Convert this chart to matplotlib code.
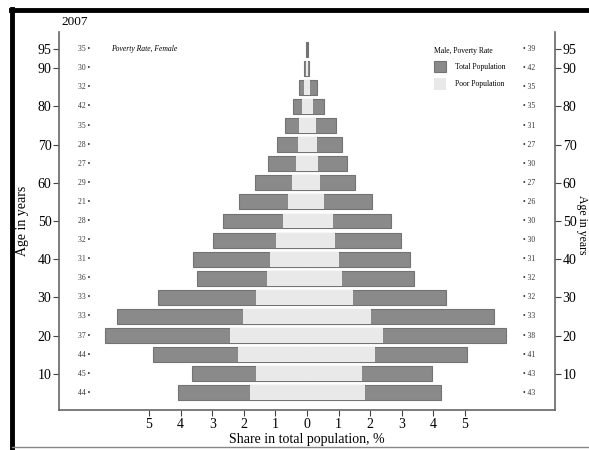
import matplotlib.pyplot as plt
from matplotlib.lines import Line2D

plt.rcParams['font.family'] = ['Liberation Serif', 'DejaVu Serif']

# age groups (bar centres) and shares in total population, %
ages = [5, 10, 15, 20, 25, 30, 35, 40, 45, 50, 55, 60, 65, 70, 75, 80, 85, 90, 95]
female_total = [4.08, 3.64, 4.87, 6.39, 6.01, 4.72, 3.48, 3.61, 2.97, 2.66,
                2.15, 1.65, 1.23, 0.95, 0.70, 0.44, 0.25, 0.10, 0.03]
female_poor = [1.80, 1.61, 2.18, 2.44, 2.03, 1.61, 1.27, 1.17, 0.98, 0.76,
               0.60, 0.47, 0.35, 0.28, 0.25, 0.16, 0.08, 0.03, 0.01]
male_total = [4.24, 3.96, 5.06, 6.30, 5.92, 4.40, 3.39, 3.26, 2.97, 2.66,
              2.06, 1.52, 1.27, 1.11, 0.92, 0.54, 0.32, 0.07, 0.03]
male_poor = [1.84, 1.74, 2.15, 2.41, 2.03, 1.46, 1.11, 1.01, 0.89, 0.82,
             0.54, 0.41, 0.35, 0.32, 0.29, 0.19, 0.10, 0.03, 0.01]
# poverty rates, %
female_rate = [44, 45, 44, 37, 33, 33, 36, 31, 32, 28, 21, 29, 27, 28, 35, 42, 32, 30, 35]
male_rate = [43, 43, 41, 38, 33, 32, 32, 31, 30, 30, 26, 27, 30, 27, 31, 35, 35, 42, 39]

fig = plt.figure(figsize=(5.89, 4.5), dpi=100)
ax = fig.add_axes([0.1002, 0.0889, 0.8421, 0.84])

dark = '#8a8a8a'
light = '#e9e9e9'
h = 3.9

tot_f = ax.barh(ages, [-v for v in female_total], height=h, color=dark, edgecolor='#737373', linewidth=0.8)
tot_m = ax.barh(ages, male_total, height=h, color=dark, edgecolor='#737373', linewidth=0.8)
poor_f = ax.barh(ages, [-v for v in female_poor], height=h, color=light, linewidth=0)
poor_m = ax.barh(ages, male_poor, height=h, color=light, linewidth=0)

# poverty rate labels
for a, r in zip(ages, female_rate):
    ax.text(-6.87, a, f'{r} \u2022', ha='right', va='center', fontsize=5.5, color='#333333')
for a, r in zip(ages, male_rate):
    ax.text(6.84, a, f'\u2022 {r}', ha='left', va='center', fontsize=5.5, color='#333333')

ax.set_xlim(-7.85, 7.85)
ax.set_ylim(0.5, 99.5)
xt = [-5, -4, -3, -2, -1, 0, 1, 2, 3, 4, 5]
ax.set_xticks(xt)
ax.set_xticklabels([str(abs(v)) for v in xt], fontsize=10)
yt = [10, 20, 30, 40, 50, 60, 70, 80, 90, 95]
ax.set_yticks(yt)
ax.set_yticklabels([str(v) for v in yt], fontsize=10)
ax.tick_params(axis='both', direction='out', length=4, width=0.8, color='#444444', pad=2)
ax.tick_params(axis='y', left=True, right=True, labelleft=True, labelright=True)
ax.tick_params(axis='y', which='both', labelright=True, pad=1.5)

for s in ['left', 'right', 'bottom']:
    ax.spines[s].set_color('#666666')
    ax.spines[s].set_linewidth(1.2)
ax.spines['top'].set_visible(False)

ax.set_xlabel('Share in total population, %', fontsize=10, labelpad=1)
ax.set_ylabel('Age in years', fontsize=10, labelpad=6)
fig.text(0.999, 0.5, 'Age in years', fontsize=8.5, rotation=270,
         ha='right', va='center')

ax.text(0.005, 1.01, '2007', transform=ax.transAxes, fontsize=9.5, ha='left', va='bottom')
ax.text(-6.2, 95, 'Poverty Rate, Female', fontsize=5.5, ha='left', va='center', style='italic')

leg = ax.legend([tot_m, poor_m], ['Total Population', 'Poor Population'],
                title='Male, Poverty Rate', title_fontsize=5.5, fontsize=5.5,
                frameon=False, loc='upper left', bbox_to_anchor=(0.745, 0.975),
                handlelength=1.6, handleheight=2.0, handletextpad=1.1,
                labelspacing=0.75, alignment='left', borderpad=0.2)

# page frame lines
fig.add_artist(Line2D([0.018, 1.0], [0.978, 0.978], color='black', linewidth=3.5))
fig.add_artist(Line2D([0.02, 0.02], [0.0, 0.98], color='black', linewidth=3.5))
fig.add_artist(Line2D([0.02, 1.0], [0.007, 0.007], color='#888888', linewidth=1))

fig.savefig('out.png', dpi=100)
